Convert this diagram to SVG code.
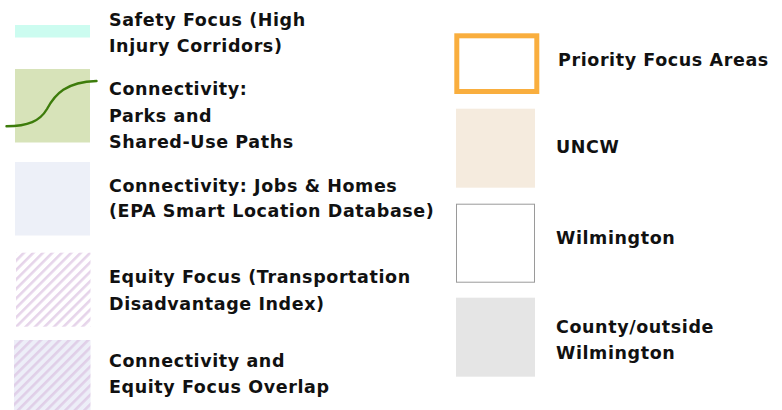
<svg xmlns="http://www.w3.org/2000/svg" width="782" height="410" viewBox="0 0 782 410">
  <style>
    .lbl { font-family: "DejaVu Sans", "Liberation Sans", sans-serif; font-weight: 700; font-size: 17.5px; letter-spacing: 0.6px; fill: #111111; }
  </style>
  <defs>
    <pattern id="hatch" width="6.7" height="6.7" patternUnits="userSpaceOnUse" patternTransform="rotate(45)">
      <rect x="0" y="0" width="2.6" height="6.7" fill="#e6d4ea"/>
    </pattern>
    <pattern id="hatch-overlap" width="6.7" height="6.7" patternUnits="userSpaceOnUse" patternTransform="rotate(45)">
      <rect x="0" y="0" width="6.7" height="6.7" fill="#edeef8"/>
      <rect x="0" y="0" width="2.6" height="6.7" fill="#e0cfe8"/>
    </pattern>
  </defs>
  <rect width="782" height="410" fill="#ffffff"/>

  <!-- left column -->
  <g id="safety-focus">
    <rect x="15" y="25" width="75" height="12.5" fill="#ccfcf0"/>
    <text class="lbl" x="109" y="26">Safety Focus (High</text>
    <text class="lbl" x="109" y="52">Injury Corridors)</text>
  </g>
  <g id="parks-paths">
    <rect x="15" y="69" width="75" height="73.5" fill="#d7e3b9"/>
    <path d="M6.5,126.3 C28,126.3 40,121 47,109 C55,94 66,82 96.5,81" fill="none" stroke="#3d7c0b" stroke-width="2.4" stroke-linecap="round"/>
    <text class="lbl" x="109" y="95">Connectivity:</text>
    <text class="lbl" x="109" y="121.5">Parks and</text>
    <text class="lbl" x="109" y="148">Shared-Use Paths</text>
  </g>
  <g id="jobs-homes">
    <rect x="15" y="162" width="75" height="73.5" fill="#edf0f8"/>
    <text class="lbl" x="109" y="191.5">Connectivity: Jobs &amp; Homes</text>
    <text class="lbl" x="109" y="216.5">(EPA Smart Location Database)</text>
  </g>
  <g id="equity-focus">
    <rect x="16" y="252.7" width="74.5" height="74" fill="url(#hatch)"/>
    <text class="lbl" x="109" y="283">Equity Focus (Transportation</text>
    <text class="lbl" x="109" y="309.5">Disadvantage Index)</text>
  </g>
  <g id="overlap">
    <rect x="14" y="340" width="76.5" height="70" fill="url(#hatch-overlap)"/>
    <text class="lbl" x="109" y="367">Connectivity and</text>
    <text class="lbl" x="109" y="393">Equity Focus Overlap</text>
  </g>

  <!-- right column -->
  <g id="priority-areas">
    <rect x="456.8" y="35.8" width="80" height="55.7" fill="#ffffff" stroke="#f9ae3e" stroke-width="5"/>
    <text class="lbl" x="558" y="66">Priority Focus Areas</text>
  </g>
  <g id="uncw">
    <rect x="456" y="108.7" width="79" height="79" fill="#f5ebde"/>
    <text class="lbl" x="556" y="153">UNCW</text>
  </g>
  <g id="wilmington">
    <rect x="456.5" y="204.2" width="78" height="78" fill="#ffffff" stroke="#9a9a9a" stroke-width="1"/>
    <text class="lbl" x="556" y="244">Wilmington</text>
  </g>
  <g id="county">
    <rect x="456" y="297.7" width="79" height="79" fill="#e5e5e5"/>
    <text class="lbl" x="556" y="333">County/outside</text>
    <text class="lbl" x="556" y="359">Wilmington</text>
  </g>

  <g id="connectors"/>
</svg>
